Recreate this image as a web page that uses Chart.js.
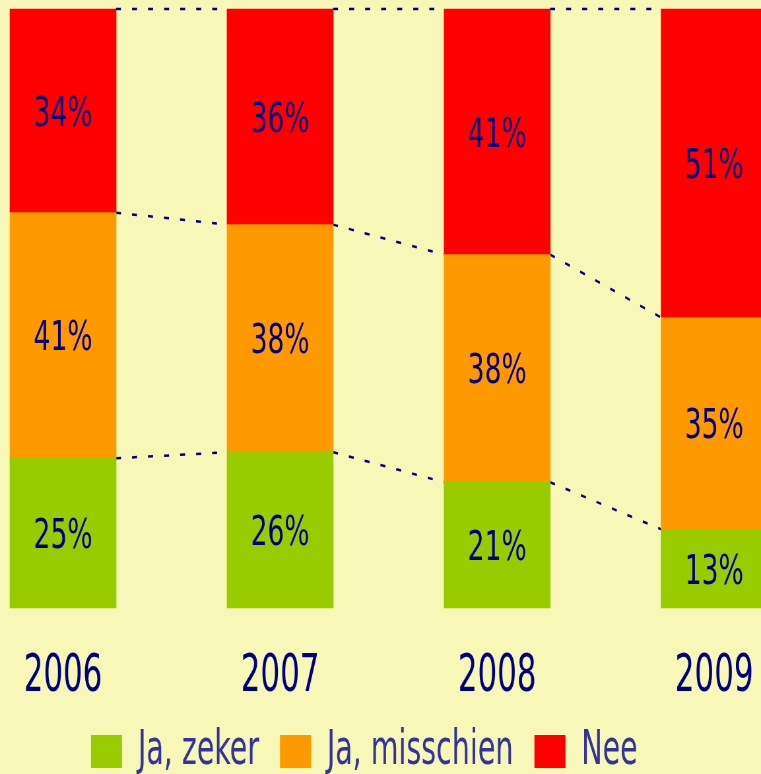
<!DOCTYPE html>
<html>
<head>
<meta charset="utf-8">
<script src="https://cdn.jsdelivr.net/npm/chart.js@4.4.0/dist/chart.umd.min.js"></script>
<style>
  html, body { margin: 0; padding: 0; overflow: hidden; background: #f7f7b7; }
  /* the whole chart is drawn wide and squeezed, which gives the condensed type */
  #wrap { width: 1153px; height: 774px; transform: scaleX(0.66); transform-origin: 0 0; }
</style>
</head>
<body>
<div id="wrap"><canvas id="chart"></canvas></div>
<script>
var years = ['2006', '2007', '2008', '2009'];
var seriesNames = ['Ja, zeker', 'Ja, misschien', 'Nee'];
var zeker = [25, 26, 21, 13];
var misschien = [41, 38, 38, 35];
var nee = [34, 36, 41, 51];
var colors = ['#99cc00', '#ff9900', '#ff0000'];

var FONT = '"Liberation Sans Narrow", "DejaVu Sans Condensed", sans-serif';
var NAVY = '#000080';
var HW = 0.2439; // half a bar, in category units

var series = [zeker, misschien, nee];
var totals = years.map(function(y, i){ return zeker[i] + misschien[i] + nee[i]; });

// every column is shown as 100%
function shares(arr){
  return arr.map(function(v, i){ return {x: i, y: v * 100 / totals[i]}; });
}

// dotted line from the right edge of one bar to the left edge of the next
function joinLine(levels){
  var pts = [];
  for (var i = 0; i < levels.length - 1; i++) {
    pts.push({x: i + HW, y: levels[i]});
    pts.push({x: i + 1 - HW, y: levels[i + 1]});
    if (i < levels.length - 2) pts.push({x: i + 1, y: null});
  }
  return pts;
}
var level1 = years.map(function(y, i){ return zeker[i] * 100 / totals[i]; });
var level2 = years.map(function(y, i){ return (zeker[i] + misschien[i]) * 100 / totals[i]; });
var level3 = years.map(function(){ return 100; });

var datasets = series.map(function(arr, d){
  return {
    type: 'bar',
    label: seriesNames[d],
    data: shares(arr),
    backgroundColor: colors[d],
    borderWidth: 0,
    barThickness: 161,
    clip: false
  };
});
[level1, level2, level3].forEach(function(lv){
  datasets.push({
    type: 'line',
    label: '',
    data: joinLine(lv),
    yAxisID: 'yl',
    borderColor: NAVY,
    borderWidth: 2.5,
    borderDash: [7.6, 16.7],
    pointRadius: 0,
    fill: false,
    spanGaps: false,
    tension: 0,
    clip: false
  });
});

// percentages inside the bars
var barLabels = {
  id: 'barLabels',
  afterDatasetsDraw: function(chart){
    var ctx = chart.ctx;
    ctx.save();
    ctx.fillStyle = NAVY;
    ctx.font = '41px ' + FONT;
    ctx.textAlign = 'center';
    ctx.textBaseline = 'alphabetic';
    series.forEach(function(arr, d){
      chart.getDatasetMeta(d).data.forEach(function(bar, i){
        var cy = (bar.y + bar.base) / 2;
        ctx.save();
        ctx.translate(bar.x, cy + 15);
        ctx.scale(1.09, 1);
        ctx.fillText(arr[i] + '%', 0, 0);
        ctx.restore();
      });
    });
    ctx.restore();
  }
};

new Chart(document.getElementById('chart'), {
  data: { datasets: datasets },
  plugins: [barLabels],
  options: {
    responsive: true,
    maintainAspectRatio: false,
    animation: false,
    layout: { padding: { left: 106.1, top: 9, right: 0, bottom: -11.5 } },
    scales: {
      x: {
        type: 'linear',
        stacked: true,
        offset: false,
        min: 0.0322,
        max: 3.2117,
        grid: { display: false, drawTicks: false, offset: false },
        border: { display: false },
        afterBuildTicks: function(scale){
          scale.ticks = years.map(function(y, i){ return {value: i}; });
        },
        afterFit: function(scale){
          scale.height = 87.7;
          scale.paddingLeft = 0;
          scale.paddingRight = 0;
        },
        ticks: {
          autoSkip: false,
          maxRotation: 0,
          padding: 43,
          color: NAVY,
          font: { family: FONT, size: 52, lineHeight: 1 },
          callback: function(v){ return years[v]; }
        }
      },
      y: { stacked: true, min: 0, max: 100, display: false },
      yl: { min: 0, max: 100, display: false }
    },
    plugins: {
      tooltip: { enabled: false },
      legend: {
        position: 'bottom',
        align: 'start',
        labels: {
          boxWidth: 47,
          boxHeight: 33,
          padding: 31.8,
          color: '#333399',
          font: { family: FONT, size: 48 },
          filter: function(item){ return item.datasetIndex < 3; }
        }
      }
    }
  }
});
</script>
</body>
</html>
